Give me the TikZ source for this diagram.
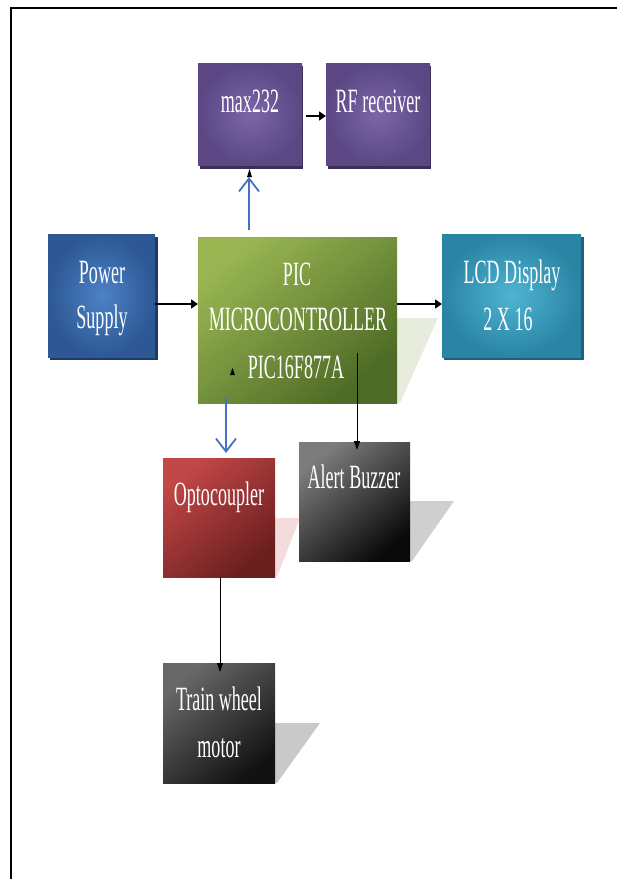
\documentclass[tikz,border=0pt]{standalone}
\usepackage{fontspec}
\setmainfont{Liberation Serif}
\usetikzlibrary{arrows.meta,calc}
\definecolor{purpleIn}{HTML}{7C66A8}
\definecolor{purpleOut}{HTML}{5A4784}
\definecolor{purpleDk}{HTML}{3B2E57}
\definecolor{blueIn}{HTML}{4C82C6}
\definecolor{blueOut}{HTML}{2D5894}
\definecolor{blueDk}{HTML}{1E3B66}
\definecolor{tealIn}{HTML}{4EB4D4}
\definecolor{tealOut}{HTML}{2A84A3}
\definecolor{tealDk}{HTML}{1C627C}
\definecolor{greenA}{HTML}{98B552}
\definecolor{greenB}{HTML}{4D6A26}
\definecolor{redA}{HTML}{C24747}
\definecolor{redB}{HTML}{6A1E1E}
\definecolor{grayA}{HTML}{7C7C7C}
\definecolor{grayB}{HTML}{0A0A0A}
\definecolor{grayC}{HTML}{686868}
\definecolor{grayD}{HTML}{121212}
\definecolor{arrowblue}{HTML}{4472C4}
\definecolor{picshadow}{HTML}{E8ECDC}
\definecolor{optoshadow}{HTML}{F4DCDC}
\definecolor{buzzshadow}{HTML}{CFCFCF}
\definecolor{trainshadow}{HTML}{C9C9C9}
\newcommand{\narrowtxt}[1]{\scalebox{0.53}[1]{#1}}
\begin{document}
\begin{tikzpicture}[x=1pt,y=-1pt,
  bx/.style={anchor=north west, inner sep=0pt, outer sep=0pt, draw=none},
  purplebox/.style={bx, shading=radial, inner color=purpleIn, outer color=purpleOut},
  bluebox/.style={bx, shading=radial, inner color=blueIn, outer color=blueOut},
  tealbox/.style={bx, shading=radial, inner color=tealIn, outer color=tealOut},
  greenbox/.style={bx, shading=axis, top color=greenA, bottom color=greenB, shading angle=40},
  redbox/.style={bx, shading=axis, top color=redA, bottom color=redB, shading angle=40},
  graybox/.style={bx, shading=axis, top color=grayA, bottom color=grayB, shading angle=40},
  darkbox/.style={bx, shading=axis, top color=grayC, bottom color=grayD, shading angle=40},
  lbl/.style={text=white, font=\fontsize{34}{40}\selectfont, inner sep=0pt, anchor=base},
  blk/.style={draw=black, line width=1.5pt, -{Triangle[length=7pt,width=9pt]}},
  blkthin/.style={draw=black, line width=0.9pt, -{Triangle[length=9pt,width=6pt]}},
  bluearr/.style={draw=arrowblue, line width=1.8pt, -{Straight Barb[length=13pt,width=20pt]}}
]
\useasboundingbox (0,0) rectangle (617,879);
\fill[white] (0,0) rectangle (617,879);
% frame
\draw[line width=2pt] (11,880) -- (11,8) -- (618,8);

% shadows
\fill[picshadow] (397,318) -- (438,318) -- (400,403) -- (397,403) -- cycle;
\fill[optoshadow] (275,518) -- (300,518) -- (277,577) -- (275,577) -- cycle;
\fill[buzzshadow] (410,501) -- (454,501) -- (412,561) -- (410,561) -- cycle;
\fill[trainshadow] (275,723) -- (320,723) -- (277,783) -- (275,783) -- cycle;

% 3D edges
\fill[purpleDk] (200,66) rectangle (303,169);
\fill[purpleDk] (328,66) rectangle (431,169);
\fill[blueDk] (50,237) rectangle (158,360);
\fill[tealDk] (444,237) rectangle (584,360);

% boxes
\node[purplebox, minimum width=104pt, minimum height=102pt] (max) at (198,63) {};
\node[purplebox, minimum width=104pt, minimum height=102pt] (rf) at (326,63) {};
\node[bluebox, minimum width=107pt, minimum height=123pt] (ps) at (48,234) {};
\node[greenbox, minimum width=199pt, minimum height=166pt] (pic) at (198,237) {};
\node[tealbox, minimum width=139pt, minimum height=123pt] (lcd) at (442,234) {};
\node[redbox, minimum width=112pt, minimum height=119pt] (opto) at (163,458) {};
\node[graybox, minimum width=111pt, minimum height=119pt] (buzz) at (299,442) {};
\node[darkbox, minimum width=112pt, minimum height=120pt] (train) at (163,663) {};

% connectors
\draw[blk] ($(max.east)+(4,2)$) -- ($(max.east -| rf.west)+(0,2)$);
\draw[blk] ($(ps.east)+(0,8.5)$) -- ($(ps.east -| pic.west)+(0,8.5)$);
\draw[blk] ($(ps.east -| pic.east)+(0,8.5)$) -- ($(ps.east -| lcd.west)+(0,8.5)$);
\draw[bluearr] ($(pic.north -| max.south)+(-1,-7)$) -- ($(max.south)+(-1,12)$);
\fill[black] (247,177) -- (249.5,169) -- (252,177) -- cycle;
\draw[bluearr] ($(pic.south -| opto.north)+(7,-6)$) -- ($(opto.north)+(7,-5)$);
\coordinate (bzs) at (357,353);
\draw[blkthin] (bzs) -- ($(bzs |- buzz.north)+(0,8)$);
\draw[blkthin] ($(opto.south)+(1,0)$) -- ($(train.north)+(1,9)$);
\fill[black] (230,375) -- (232.5,368) -- (235,375) -- cycle;

% labels
\node[lbl] (tmax) at (250,112) {\narrowtxt{max232}};
\node[lbl] (trf) at (378,112) {\narrowtxt{RF receiver}};
\node[lbl] (tps1) at (102,283) {\narrowtxt{Power}};
\node[lbl] (tps2) at (102,328) {\narrowtxt{Supply}};
\node[lbl] (tpic1) at (297,285) {\narrowtxt{PIC}};
\node[lbl] (tpic2) at (298,330) {\narrowtxt{MICROCONTROLLER}};
\node[lbl] (tpic3) at (296,378) {\narrowtxt{PIC16F877A}};
\node[lbl] (tlcd1) at (512,283) {\narrowtxt{LCD Display}};
\node[lbl] (tlcd2) at (508,330) {\narrowtxt{2 X 16}};
\node[lbl] (topto) at (219,505) {\narrowtxt{Optocoupler}};
\node[lbl] (tbuzz) at (354,488) {\narrowtxt{Alert Buzzer}};
\node[lbl] (ttr1) at (219,710) {\narrowtxt{Train wheel}};
\node[lbl] (ttr2) at (219,757) {\narrowtxt{motor}};
\end{tikzpicture}
\end{document}
